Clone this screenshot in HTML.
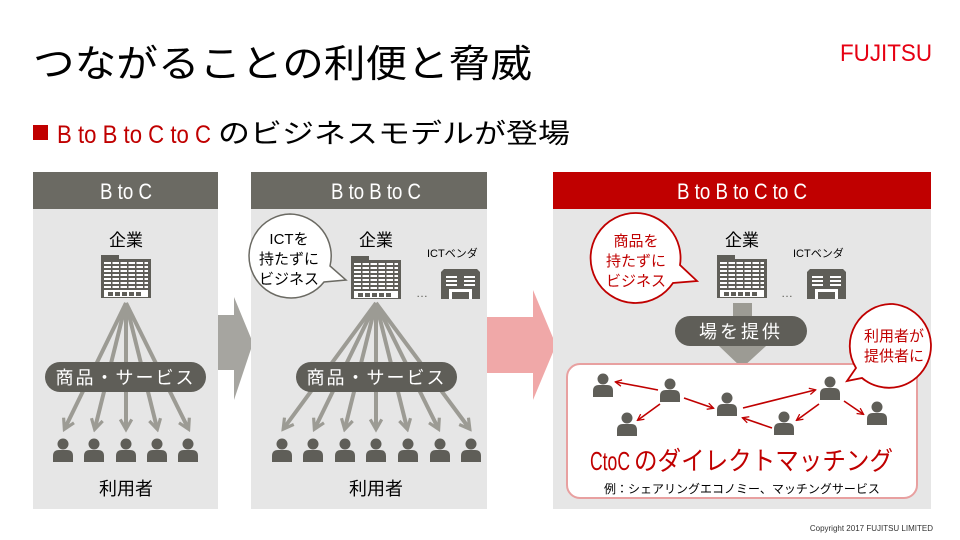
<!DOCTYPE html>
<html><head><meta charset="utf-8"><style>
html,body{margin:0;padding:0;background:#fff;}
svg{display:block;}
text{font-family:"Liberation Sans","Noto Sans CJK JP",sans-serif;}
.c{font-family:"Liberation Sans Narrow","Liberation Sans","Noto Sans CJK JP",sans-serif;}
</style></head><body>
<svg width="960" height="540" viewBox="0 0 960 540" xmlns="http://www.w3.org/2000/svg">
<defs>
  <g id="p">
    <circle cx="0" cy="-7" r="5.5" fill="#5f5e58"/>
    <path d="M-10 11 L-10 5 Q-10 -1 -4 -1 L4 -1 Q10 -1 10 5 L10 11 Z" fill="#5f5e58"/>
  </g>
  <g id="bld">
    <rect x="0" y="0" width="18" height="5" fill="#5f5e58"/>
    <rect x="0" y="4" width="50" height="39" fill="#5f5e58"/>
    <g fill="#fff">
      <rect x="3" y="7" width="44" height="2"/>
      <rect x="3" y="11" width="44" height="2"/>
      <rect x="3" y="15" width="44" height="2"/>
      <rect x="3" y="19" width="44" height="2"/>
      <rect x="3" y="23" width="44" height="2"/>
      <rect x="3" y="27" width="44" height="2"/>
      <rect x="3" y="31" width="44" height="2"/>
      <rect x="3" y="35" width="44" height="7"/>
    </g>
    <g fill="#5f5e58">
      <rect x="10" y="6" width="1.5" height="29"/><rect x="18" y="6" width="1.5" height="29"/>
      <rect x="26" y="6" width="1.5" height="29"/><rect x="34" y="6" width="1.5" height="29"/>
      <rect x="42" y="6" width="1.5" height="29"/>
      <rect x="7" y="37" width="5" height="4"/><rect x="14" y="37" width="5" height="4"/>
      <rect x="21" y="37" width="5" height="4"/><rect x="28" y="37" width="5" height="4"/>
      <rect x="35" y="37" width="5" height="4"/>
    </g>
  </g>
  <g id="ven">
    <path d="M3 0 L36 0 L39 3 L39 30 L0 30 L0 3 Z" fill="#5f5e58"/>
    <g fill="#fff">
      <rect x="5" y="7" width="11" height="2"/><rect x="5" y="11" width="11" height="2"/><rect x="5" y="15" width="11" height="2"/>
      <rect x="23" y="7" width="11" height="2"/><rect x="23" y="11" width="11" height="2"/><rect x="23" y="15" width="11" height="2"/>
      <rect x="8" y="20" width="23" height="10"/>
    </g>
    <rect x="11" y="23" width="17" height="7" fill="#5f5e58"/>
  </g>
  <marker id="ga" viewBox="0 0 10 10" refX="7" refY="5" markerWidth="3.6" markerHeight="3.6" orient="auto">
    <path d="M1 1 L8 5 L1 9" fill="none" stroke="#9c9b94" stroke-width="2.2"/>
  </marker>
  <marker id="ra" viewBox="0 0 10 10" refX="8" refY="5" markerWidth="5" markerHeight="5" orient="auto">
    <path d="M1 1 L9 5 L1 9" fill="none" stroke="#c00000" stroke-width="1.6"/>
  </marker>
</defs>

<!-- Title -->
<text x="33" y="77" font-size="38" fill="#000" textLength="499" lengthAdjust="spacingAndGlyphs">つながることの利便と脅威</text>
<text x="840" y="61" font-size="24" fill="#e60012" textLength="92" lengthAdjust="spacingAndGlyphs">FUJITSU</text>
<rect x="33" y="125" width="15" height="15" fill="#c00000"/>
<text x="57" y="143" font-size="25" fill="#c00000" textLength="154" lengthAdjust="spacingAndGlyphs">B to B to C to C</text>
<text x="218" y="143" font-size="27" fill="#000" textLength="352" lengthAdjust="spacingAndGlyphs">のビジネスモデルが登場</text>

<!-- Panel 1 -->
<rect x="33" y="172" width="185" height="37" fill="#6b6a63"/>
<text x="100" y="199" font-size="22" fill="#fff" textLength="52" lengthAdjust="spacingAndGlyphs">B to C</text>
<rect x="33" y="209" width="185" height="300" fill="#e6e6e6"/>
<text x="126" y="246" font-size="17" text-anchor="middle" fill="#000">企業</text>
<use href="#bld" x="101" y="255"/>
<g stroke="#9c9b94" stroke-width="4" marker-end="url(#ga)">
  <line x1="126" y1="303" x2="65" y2="428"/>
  <line x1="126" y1="303" x2="95" y2="428"/>
  <line x1="126" y1="303" x2="126" y2="428"/>
  <line x1="126" y1="303" x2="157" y2="428"/>
  <line x1="126" y1="303" x2="188" y2="428"/>
</g>
<rect x="45" y="362" width="161" height="30" rx="15" fill="#5f5e58"/>
<text x="125.5" y="384" font-size="18" fill="#fff" text-anchor="middle" letter-spacing="2">商品・サービス</text>
<use href="#p" x="63" y="451"/><use href="#p" x="94" y="451"/><use href="#p" x="126" y="451"/><use href="#p" x="157" y="451"/><use href="#p" x="188" y="451"/>
<text x="126" y="495" font-size="18" text-anchor="middle" fill="#000">利用者</text>

<!-- arrow 1 -->
<path d="M218 315 L234 315 L234 297 L253 343 L234 400 L234 370 L218 370 Z" fill="#a6a5a0"/>

<!-- Panel 2 -->
<rect x="251" y="172" width="236" height="37" fill="#6b6a63"/>
<text x="331" y="199" font-size="22" fill="#fff" textLength="90" lengthAdjust="spacingAndGlyphs">B to B to C</text>
<rect x="251" y="209" width="236" height="300" fill="#e6e6e6"/>
<text x="376" y="246" font-size="17" text-anchor="middle" fill="#000">企業</text>
<use href="#bld" x="351" y="256"/>
<text x="427" y="257" font-size="11" fill="#000">ICTベンダ</text>
<text x="416" y="297" font-size="12" fill="#5f5e58">…</text>
<use href="#ven" x="441" y="269"/>
<path d="M290 214 A42 42 0 1 0 324 282 L346 280 L330 266 A42 42 0 0 0 290 214 Z" fill="#fff" stroke="#6b6a63" stroke-width="1.5"/>
<text x="289" y="244" font-size="15" text-anchor="middle" fill="#000">ICTを</text>
<text x="289" y="264" font-size="15" text-anchor="middle" fill="#000">持たずに</text>
<text x="289" y="284" font-size="15" text-anchor="middle" fill="#000">ビジネス</text>
<g stroke="#9c9b94" stroke-width="4" marker-end="url(#ga)">
  <line x1="376" y1="303" x2="284" y2="428"/>
  <line x1="376" y1="303" x2="315" y2="428"/>
  <line x1="376" y1="303" x2="345" y2="428"/>
  <line x1="376" y1="303" x2="376" y2="428"/>
  <line x1="376" y1="303" x2="407" y2="428"/>
  <line x1="376" y1="303" x2="438" y2="428"/>
  <line x1="376" y1="303" x2="469" y2="428"/>
</g>
<rect x="296" y="362" width="161" height="30" rx="15" fill="#5f5e58"/>
<text x="376.5" y="384" font-size="18" fill="#fff" text-anchor="middle" letter-spacing="2">商品・サービス</text>
<use href="#p" x="282" y="451"/><use href="#p" x="313" y="451"/><use href="#p" x="345" y="451"/><use href="#p" x="376" y="451"/><use href="#p" x="408" y="451"/><use href="#p" x="440" y="451"/><use href="#p" x="471" y="451"/>
<text x="376" y="495" font-size="18" text-anchor="middle" fill="#000">利用者</text>

<!-- arrow 2 -->
<path d="M487 317 L533 317 L533 290 L556 345 L533 400 L533 373 L487 373 Z" fill="#f0a8a8"/>

<!-- Panel 3 -->
<rect x="553" y="172" width="378" height="37" fill="#c00000"/>
<text x="677" y="199" font-size="22" fill="#fff" textLength="130" lengthAdjust="spacingAndGlyphs">B to B to C to C</text>
<rect x="553" y="209" width="378" height="300" fill="#e6e6e6"/>
<text x="742" y="246" font-size="17" text-anchor="middle" fill="#000">企業</text>
<use href="#bld" x="717" y="255"/>
<text x="793" y="257" font-size="11" fill="#000">ICTベンダ</text>
<text x="781" y="297" font-size="12" fill="#5f5e58">…</text>
<use href="#ven" x="807" y="269"/>
<path d="M636 213 A45 45 0 1 0 673 283 L697 281 L680 265 A45 45 0 0 0 636 213 Z" fill="#fff" stroke="#c00000" stroke-width="1.8"/>
<text x="636" y="246" font-size="15" text-anchor="middle" fill="#c00000">商品を</text>
<text x="636" y="266" font-size="15" text-anchor="middle" fill="#c00000">持たずに</text>
<text x="636" y="286" font-size="15" text-anchor="middle" fill="#c00000">ビジネス</text>
<path d="M733 303 L752 303 L752 346 L766 346 L742 368 L719 346 L733 346 Z" fill="#9c9b94"/>
<rect x="675" y="316" width="132" height="30" rx="15" fill="#5f5e58"/>
<text x="741" y="338" font-size="18" fill="#fff" text-anchor="middle" letter-spacing="3">場を提供</text>
<rect x="567" y="364" width="350" height="134" rx="13" fill="#fff" stroke="#e8a0a0" stroke-width="2"/>
<path d="M893 304 A42 42 0 1 1 862 378 L847 381 L856 368 A42 42 0 0 1 893 304 Z" fill="#fff" stroke="#c00000" stroke-width="1.8"/>
<text x="894" y="341" font-size="15" text-anchor="middle" fill="#c00000">利用者が</text>
<text x="894" y="361" font-size="15" text-anchor="middle" fill="#c00000">提供者に</text>
<use href="#p" x="603" y="386"/><use href="#p" x="670" y="391"/><use href="#p" x="727" y="405"/>
<use href="#p" x="627" y="425"/><use href="#p" x="784" y="424"/><use href="#p" x="830" y="389"/><use href="#p" x="877" y="414"/>
<g stroke="#c00000" stroke-width="1.6" marker-end="url(#ra)">
  <line x1="658" y1="390" x2="616" y2="382"/>
  <line x1="660" y1="404" x2="638" y2="420"/>
  <line x1="684" y1="398" x2="713" y2="408"/>
  <line x1="743" y1="408" x2="815" y2="390"/>
  <line x1="772" y1="428" x2="743" y2="418"/>
  <line x1="819" y1="404" x2="797" y2="420"/>
  <line x1="844" y1="401" x2="863" y2="414"/>
</g>
<text x="590" y="470" font-size="26" fill="#c00000" textLength="40" lengthAdjust="spacingAndGlyphs">CtoC</text>
<text x="634" y="470" font-size="26" fill="#c00000" textLength="259" lengthAdjust="spacingAndGlyphs">のダイレクトマッチング</text>
<text x="742" y="493" font-size="12" text-anchor="middle" fill="#000">例：シェアリングエコノミー、マッチングサービス</text>

<text x="933" y="531" font-size="8" text-anchor="end" fill="#333">Copyright 2017 FUJITSU LIMITED</text>
</svg>
</body></html>
